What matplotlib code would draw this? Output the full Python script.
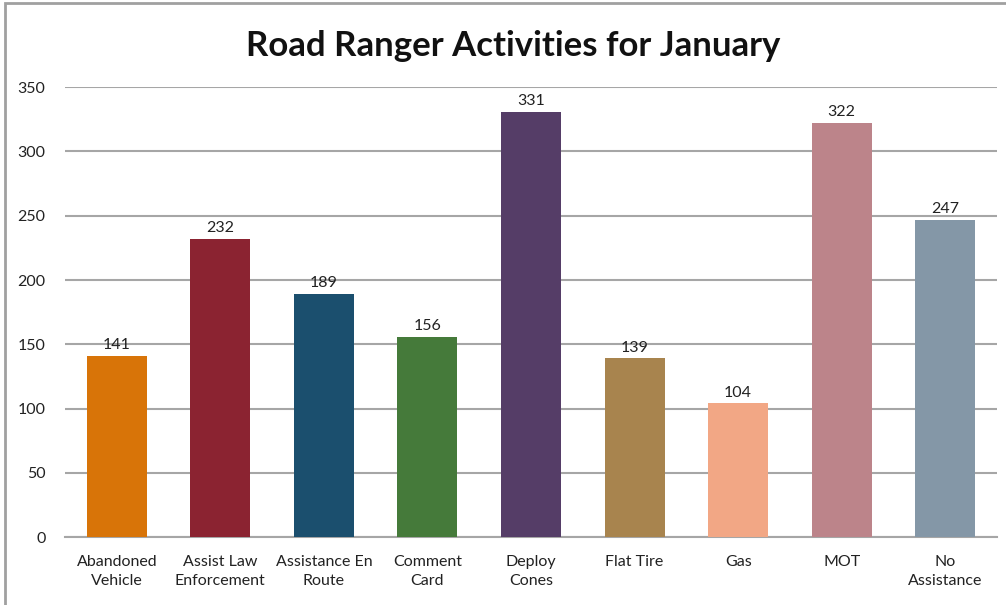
import matplotlib.pyplot as plt
from matplotlib.patches import Rectangle

plt.rcParams['font.family'] = ['Lato', 'DejaVu Sans']

categories = ['Abandoned\nVehicle', 'Assist Law\nEnforcement', 'Assistance En\nRoute',
              'Comment\nCard', 'Deploy\nCones', 'Flat Tire', 'Gas', 'MOT', 'No\nAssistance']
values = [141, 232, 189, 156, 331, 139, 104, 322, 247]
colors = ['#D87408', '#8B2331', '#1B4F6E', '#457A3A', '#553D67',
          '#A8844E', '#F2A785', '#BC848A', '#8497A7']

fig = plt.figure(figsize=(10.06, 6.05), dpi=100)
ax = fig.add_axes([0.0646, 0.112, 0.9265, 0.744])

x = range(len(categories))
bars = ax.bar(x, values, width=0.58, color=colors, zorder=3)
for xi, v in zip(x, values):
    ax.text(xi, v + 3, str(v), ha='center', va='bottom', fontsize=11.5, color='#222222')

ax.set_xlim(-0.5, len(categories) - 0.5)
ax.set_ylim(0, 350)
ax.set_yticks(range(0, 351, 50))
ax.set_xticks(list(x))
ax.set_xticklabels(categories, fontsize=11.5, color='#222222', linespacing=1.45)
ax.tick_params(axis='y', labelsize=11.5, labelcolor='#222222', length=0, pad=14)
ax.tick_params(axis='x', length=0, pad=13)
ax.yaxis.grid(True, color='#A6A6A6', linewidth=1.5, zorder=0)
for s in ['top', 'right', 'left']:
    ax.spines[s].set_visible(False)
ax.spines['bottom'].set_color('#A6A6A6')
ax.spines['bottom'].set_linewidth(1.5)

fig.suptitle('Road Ranger Activities for January', x=0.51, y=0.95,
             fontsize=25, fontweight='bold', color='#111111')

# chart frame
fig.patches.append(Rectangle((0.005, -0.01), 1.2, 1.005, transform=fig.transFigure,
                             fill=False, edgecolor='#A0A0A0', linewidth=2))

fig.savefig('out.png', dpi=100)
